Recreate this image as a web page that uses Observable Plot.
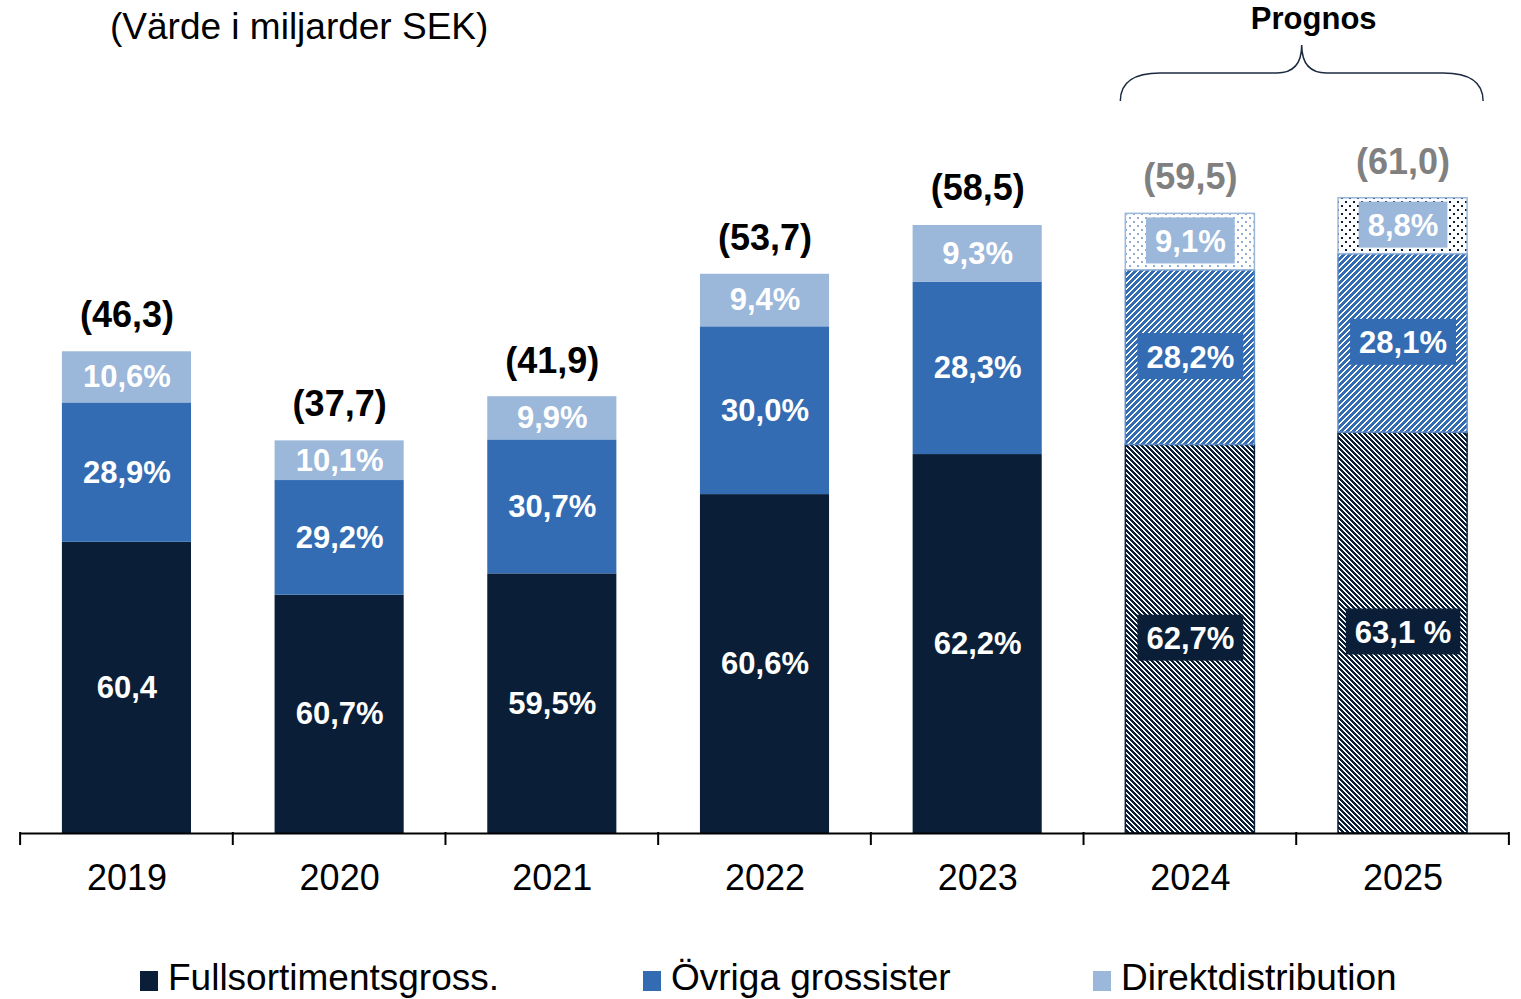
<!DOCTYPE html>
<html>
<head>
<meta charset="utf-8">
<script src="https://cdn.jsdelivr.net/npm/d3@7"></script>
<script src="https://cdn.jsdelivr.net/npm/@observablehq/plot@0.6"></script>
<style>
  html, body { margin: 0; padding: 0; background: #fff; }
  body { width: 1521px; height: 999px; overflow: hidden; font-family: "Liberation Sans", Arial, sans-serif; position: relative; }
  #legend { position: absolute; left: 0; top: 957px; width: 1521px; height: 42px; font-size: 37px; color: #000; white-space: nowrap; }
  #legend .item { position: absolute; top: 0; display: flex; align-items: center; }
  #legend .sw { display: inline-block; width: 18px; height: 20px; margin-right: 10px; margin-top: 5px; }
</style>
</head>
<body>
<div id="chart"></div>
<div id="legend"></div>
<script>
// ---- data ----
const years = [2019, 2020, 2021, 2022, 2023, 2024, 2025];
const forecastYears = [2024, 2025];
const totals = [46.3, 37.7, 41.9, 53.7, 58.5, 59.5, 61.0];
const totalLabels = ["(46,3)", "(37,7)", "(41,9)", "(53,7)", "(58,5)", "(59,5)", "(61,0)"];
const seriesNames = ["Fullsortimentsgross.", "Övriga grossister", "Direktdistribution"];
const seriesColors = ["#0A1F37", "#336CB3", "#9BB7DA"];
const fullShare = [60.4, 60.7, 59.5, 60.6, 62.2, 62.7, 63.1];
const fullLabels = ["60,4", "60,7%", "59,5%", "60,6%", "62,2%", "62,7%", "63,1 %"];
const ovrigaShare = [28.9, 29.2, 30.7, 30.0, 28.3, 28.2, 28.1];
const ovrigaLabels = ["28,9%", "29,2%", "30,7%", "30,0%", "28,3%", "28,2%", "28,1%"];
const direktShare = [10.6, 10.1, 9.9, 9.4, 9.3, 9.1, 8.8];
const direktLabels = ["10,6%", "10,1%", "9,9%", "9,4%", "9,3%", "9,1%", "8,8%"];
const titleText = "(Värde i miljarder SEK)";
const forecastText = "Prognos";
const legendLeft = [140, 643, 1093];

// ---- build table ----
const patternFor = (k, yr) => k === 0 ? "url(#pFull)" : k === 1 ? "url(#pOvr)" : (yr === 2024 ? "url(#pDir24)" : "url(#pDir25)");
const rows = [];
years.forEach((yr, i) => {
  const shares = [fullShare[i], ovrigaShare[i], direktShare[i]];
  const labels = [fullLabels[i], ovrigaLabels[i], direktLabels[i]];
  const fc = forecastYears.includes(yr);
  shares.forEach((s, k) => rows.push({
    year: String(yr), yr, k, series: seriesNames[k],
    value: totals[i] * s / 100, label: labels[k], forecast: fc,
    fill: fc ? patternFor(k, yr) : seriesColors[k],
    stroke: fc ? (k === 1 ? "#5B8BC9" : seriesColors[k]) : "none"
  }));
});
const totalRows = years.map((yr, i) => ({year: String(yr), total: totals[i], label: totalLabels[i], forecast: forecastYears.includes(yr)}));

const plot = Plot.plot({
  width: 1521, height: 940,
  marginLeft: 20, marginRight: 12, marginTop: 104, marginBottom: 107,
  style: {fontFamily: "'Liberation Sans', Arial, sans-serif", background: "white", color: "black"},
  x: {domain: years.map(String), paddingInner: 0.393, paddingOuter: 0.197, round: false, label: null},
  y: {domain: [0, 70], axis: null},
  color: {type: "identity"},
  marks: [
    Plot.barY(rows, {x: "year", y: "value", fill: "fill", stroke: "stroke", strokeWidth: 1.5}),
    Plot.ruleY([0], {stroke: "black", strokeWidth: 2}),
    Plot.axisX({tickSize: 0, tickPadding: 31, fontSize: 36, fill: "black"}),
    Plot.text(rows, Plot.stackY({filter: d => !d.forecast, x: "year", y: "value", text: "label",
      fill: "white", fontSize: 31, fontWeight: "bold"})),
    Plot.text(rows, Plot.stackY({filter: d => d.forecast, x: "year", y: "value", text: "label",
      fill: "white", fontSize: 31, fontWeight: "bold", stroke: d => seriesColors[d.k], strokeOpacity: 0, strokeWidth: 0,
      className: "boxed"})),
    Plot.text(totalRows, {x: "year", y: "total", text: "label", dy: -36, fontSize: 36, fontWeight: "bold",
      fill: d => d.forecast ? "#808080" : "#000000"})
  ]
});
document.getElementById("chart").appendChild(plot);

const svg = d3.select(plot);
// patterns (pixel staircase hatching, like the original)
const defs = svg.insert("defs", ":first-child");
function stripePattern(id, color, period, on, dir) {
  const p = defs.append("pattern").attr("id", id).attr("patternUnits", "userSpaceOnUse")
    .attr("width", period).attr("height", period).attr("shape-rendering", "crispEdges");
  p.append("rect").attr("width", period).attr("height", period).attr("fill", "white");
  for (let r = 0; r < period; r++) {
    const start = dir > 0 ? ((period - r) % period) : r;
    for (let c = 0; c < on; c++) {
      p.append("rect").attr("x", (start + c) % period).attr("y", r).attr("width", 1).attr("height", 1).attr("fill", color);
    }
  }
}
stripePattern("pFull", seriesColors[0], 5, 3, -1);
stripePattern("pOvr", seriesColors[1], 6, 4, 1);
function dotPattern(id, color, w, h, s) {
  const p = defs.append("pattern").attr("id", id).attr("patternUnits", "userSpaceOnUse")
    .attr("width", w).attr("height", h).attr("shape-rendering", "crispEdges");
  p.append("rect").attr("width", w).attr("height", h).attr("fill", "white");
  p.append("rect").attr("x", 1).attr("y", 1).attr("width", s).attr("height", s).attr("fill", color);
  p.append("rect").attr("x", 1 + w / 2).attr("y", 1 + h / 2).attr("width", s).attr("height", s).attr("fill", color);
}
dotPattern("pDir24", "#8FADD6", 8, 8, 2);
dotPattern("pDir25", seriesColors[0], 8, 8, 2);

// label boxes for forecast bars
svg.selectAll("g.boxed text").each(function () {
  const bb = this.getBBox();
  const color = this.getAttribute("stroke");
  const cy = bb.y + bb.height / 2 - 1;
  d3.select(this.parentNode).insert("rect", () => this)
    .attr("transform", this.getAttribute("transform"))
    .attr("x", bb.x - 9).attr("y", cy - 23).attr("width", bb.width + 18).attr("height", 46)
    .attr("fill", color);
});

// axis boundary ticks
const xs = plot.scale("x"), ys = plot.scale("y");
const y0 = ys.apply(0);
const half = (xs.step - xs.bandwidth) / 2;
const bounds = years.map(y => xs.apply(String(y)) - half);
bounds.push(xs.apply(String(years[years.length - 1])) + xs.bandwidth + half);
svg.append("g").selectAll("line").data(bounds).join("line")
  .attr("x1", d => d).attr("x2", d => d).attr("y1", y0 - 1).attr("y2", y0 + 12)
  .attr("stroke", "black").attr("stroke-width", 2);

// title
svg.append("text").attr("x", 110).attr("y", 39).attr("text-anchor", "start").attr("font-size", 37)
  .attr("fill", "black").text(titleText);

// forecast brace
const L = xs.apply("2024") - 5, R = xs.apply("2025") + xs.bandwidth + 16, M = (L + R) / 2;
svg.append("path").attr("fill", "none").attr("stroke", "#1C2B40").attr("stroke-width", 1.5)
  .attr("d", `M${L},101 C${L},82 ${L+14},73 ${L+40},73 L${M-25},73 C${M-10},73 ${M},66 ${M},45 C${M},66 ${M+10},73 ${M+25},73 L${R-40},73 C${R-14},73 ${R},82 ${R},101`);
svg.append("text").attr("x", M + 12).attr("y", 29).attr("text-anchor", "middle").attr("font-size", 31)
  .attr("font-weight", "bold").attr("fill", "black").text(forecastText);

// legend
const legend = d3.select("#legend");
seriesNames.forEach((n, k) => {
  const it = legend.append("div").attr("class", "item").style("left", legendLeft[k] + "px");
  it.append("span").attr("class", "sw").style("background", seriesColors[k]);
  it.append("span").text(n);
});
</script>
</body>
</html>
